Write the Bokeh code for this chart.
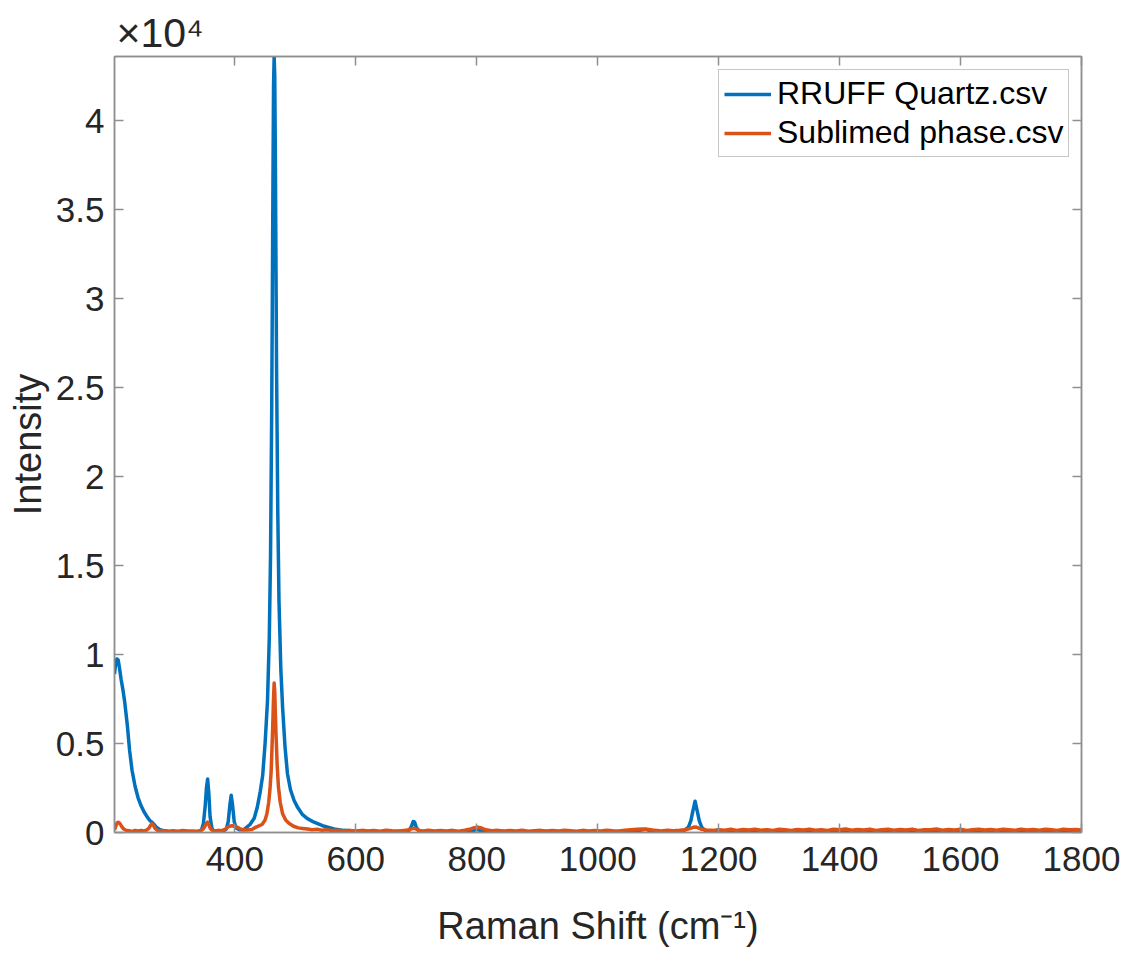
from bokeh.plotting import figure
from bokeh.models import (Range1d, LinearAxis, FixedTicker, CustomJSTickFormatter,
                          Legend, LegendItem, Title)
from bokeh.embed import file_html
from bokeh.resources import INLINE

# ---------------- data ----------------
quartz_x = [201, 203, 205, 207, 209, 212, 215, 218, 222, 226, 230, 235, 240, 245, 250,
            255, 260, 263, 266, 270, 275, 280, 290, 300, 320, 340, 345, 348, 351, 353,
            355, 357, 359, 362, 365, 370, 380, 386, 389, 392, 394, 396, 399, 402, 408,
            415, 425, 432, 437, 442, 446, 450, 454, 457, 459, 461, 462, 463, 464, 465,
            466, 467, 468, 469, 471, 473, 476, 479, 483, 487, 492, 498, 504, 512, 520,
            531, 545, 564, 580, 600, 640, 680, 688, 692, 695, 697, 700, 704, 710, 760,
            790, 800, 810, 830, 900, 1000, 1060, 1070, 1080, 1090, 1100, 1140, 1150, 1154,
            1157, 1161, 1165, 1168, 1172, 1178, 1190, 1250, 1400, 1600, 1800]
quartz_y = [8900, 9500, 9750, 9700, 9300, 8600, 8000, 7300, 6100, 4600, 3500, 2600, 1950, 1500, 1150,
            880, 650, 580, 470, 300, 180, 120, 70, 50, 40, 60, 150, 500, 1500, 2500,
            3000, 2200, 900, 250, 90, 60, 70, 200, 600, 1600, 2090, 1600, 600, 250, 150,
            160, 450, 800, 1400, 2300, 3200, 5000, 7400, 11000, 15500, 24000, 30000, 36500, 42000, 43600,
            42500, 38000, 32000, 26000, 18000, 13000, 9200, 7000, 4800, 3300, 2400, 1800, 1400, 1000, 780,
            580, 380, 200, 120, 70, 40, 50, 120, 350, 620, 600, 300, 100, 40, 30,
            60, 180, 60, 20, 10, 10, 30, 120, 180, 60, 20, 30, 300, 650,
            1150, 1760, 1150, 650, 300, 100, 40, 20, 20, 20, 20]

sublimed_x = [201, 203, 205, 207, 209, 211, 213, 216, 220, 225, 230, 235, 240, 245, 250,
              255, 258, 261, 263, 265, 268, 272, 276, 282, 290, 298, 306, 314, 322, 330,
              338, 344, 348, 351, 353, 355, 357, 359, 362, 366, 372, 378, 384, 388, 392,
              396, 400, 404, 408, 414, 420, 428, 435, 445, 450, 453, 456, 458, 460, 462,
              463, 464, 465, 466, 467, 468, 470, 472, 475, 479, 484, 490, 497, 505, 512,
              520, 528, 536, 544, 552, 560, 570, 580, 590, 600, 610, 620, 630, 640, 650,
              660, 670, 680, 688, 692, 696, 700, 705, 712, 720, 730, 740, 750, 760, 770,
              780, 790, 796, 802, 808, 815, 825, 835, 845, 855, 865, 875, 885, 895, 905,
              915, 925, 935, 945, 955, 965, 975, 985, 995, 1005, 1015, 1025, 1035, 1045, 1055,
              1065, 1075, 1085, 1095, 1105, 1115, 1125, 1135, 1145, 1152, 1158, 1162, 1166, 1172, 1180,
              1190, 1200, 1210, 1220, 1230, 1240, 1250, 1260, 1270, 1280, 1290, 1300, 1310, 1320, 1330,
              1340, 1350, 1360, 1370, 1380, 1390, 1400, 1410, 1420, 1430, 1440, 1450, 1460, 1470, 1480,
              1490, 1500, 1510, 1520, 1530, 1540, 1550, 1560, 1570, 1580, 1590, 1600, 1610, 1620, 1630,
              1640, 1650, 1660, 1670, 1680, 1690, 1700, 1710, 1720, 1730, 1740, 1750, 1760, 1770, 1780,
              1790, 1800]
sublimed_y = [150, 350, 520, 580, 540, 450, 330, 200, 130, 100, 60, 110, 80, 120, 90,
              150, 250, 420, 500, 420, 230, 120, 80, 110, 60, 100, 70, 110, 80, 90,
              70, 120, 200, 380, 520, 580, 450, 250, 130, 90, 120, 100, 180, 300, 360,
              380, 340, 300, 220, 150, 140, 170, 300, 450, 700, 1050, 1700, 2400, 3400, 5300,
              6400, 7600, 8400, 7900, 6700, 5600, 3800, 2600, 1700, 1050, 700, 500, 350, 260, 230,
              200, 160, 180, 130, 150, 110, 130, 90, 120, 80, 120, 90, 110, 70, 130,
              100, 80, 120, 150, 200, 240, 190, 120, 90, 130, 80, 110, 90, 120, 70,
              130, 200, 270, 290, 250, 150, 100, 120, 80, 110, 90, 130, 70, 100, 120,
              80, 110, 90, 130, 100, 70, 120, 90, 110, 80, 130, 100, 90, 120, 150,
              180, 200, 170, 120, 90, 130, 100, 120, 150, 220, 290, 310, 260, 180, 140,
              120, 160, 130, 180, 120, 170, 140, 190, 130, 160, 120, 180, 150, 110, 170,
              140, 190, 130, 160, 120, 180, 150, 200, 130, 170, 140, 190, 120, 160, 180,
              130, 170, 140, 190, 120, 160, 150, 200, 130, 170, 140, 180, 120, 160, 190,
              140, 170, 130, 180, 150, 120, 190, 140, 170, 130, 180, 160, 120, 190, 150,
              170, 140]

x_ticks = [400, 600, 800, 1000, 1200, 1400, 1600, 1800]
y_ticks = [0, 5000, 10000, 15000, 20000, 25000, 30000, 35000, 40000]
series_names = ["RRUFF Quartz.csv", "Sublimed phase.csv"]
series_colors = ["#0072BD", "#D95319"]

FONT = "Liberation Sans"
TXT = "#262626"
AX = "#8f8f8f"

p = figure(frame_width=967, frame_height=776, output_backend="svg", toolbar_location=None,
           x_range=Range1d(201, 1800), y_range=Range1d(0, 43600),
           min_border_left=114, min_border_right=40, min_border_top=56, min_border_bottom=100,
           background_fill_color="white", border_fill_color="white")
p.grid.visible = False
p.outline_line_color = AX
p.outline_line_width = 1.5

p.xaxis.ticker = FixedTicker(ticks=x_ticks, minor_ticks=[])
p.yaxis.ticker = FixedTicker(ticks=y_ticks, minor_ticks=[])
p.yaxis.formatter = CustomJSTickFormatter(code="return (tick/10000).toString();")
for ax in (p.xaxis[0], p.yaxis[0]):
    ax.major_tick_in = 9
    ax.major_tick_out = 0
    ax.minor_tick_line_color = None
    ax.axis_line_color = AX
    ax.axis_line_width = 1.5
    ax.major_tick_line_color = AX
    ax.major_tick_line_width = 1.5
    ax.major_label_text_font = FONT
    ax.major_label_text_font_size = "35px"
    ax.major_label_text_color = TXT
    ax.axis_label_text_font = FONT
    ax.axis_label_text_font_size = "38px"
    ax.axis_label_text_font_style = "normal"
    ax.axis_label_text_color = TXT
p.xaxis.major_label_standoff = 14
p.yaxis.major_label_standoff = 10
p.xaxis.axis_label = "Raman Shift (cm\u207b\u00b9)"
p.yaxis.axis_label = "Intensity"
p.xaxis.axis_label_standoff = 31
p.yaxis.axis_label_standoff = 4

for loc, tks in (("above", x_ticks), ("right", y_ticks)):
    ax = LinearAxis(ticker=FixedTicker(ticks=tks, minor_ticks=[]),
                    formatter=CustomJSTickFormatter(code="return '';"),
                    major_tick_in=9, major_tick_out=0, minor_tick_line_color=None,
                    axis_line_color=AX, axis_line_width=1.5,
                    major_tick_line_color=AX, major_tick_line_width=1.5,
                    major_label_text_font_size="1px", major_label_standoff=0)
    p.add_layout(ax, loc)

p.add_layout(Title(text="\u00d710\u2074", align="left", offset=2, standoff=1,
                   text_font=FONT, text_font_size="41px", text_font_style="normal",
                   text_color=TXT), "above")

r1 = p.line(quartz_x, quartz_y, line_color=series_colors[0], line_width=3.5, line_join="round")
r2 = p.line(sublimed_x, sublimed_y, line_color=series_colors[1], line_width=3.5, line_join="round")

legend = Legend(items=[LegendItem(label=series_names[0], renderers=[r1]),
                       LegendItem(label=series_names[1], renderers=[r2])],
                location=(604, 675), margin=0, padding=5, spacing=2,
                glyph_width=47, glyph_height=36, label_standoff=6,
                label_text_font=FONT, label_text_font_size="32px", label_text_color="black",
                border_line_color=AX, border_line_width=1.5,
                background_fill_color="white", background_fill_alpha=1.0)
p.add_layout(legend)

open("out.html", "w").write(file_html(p, INLINE))
